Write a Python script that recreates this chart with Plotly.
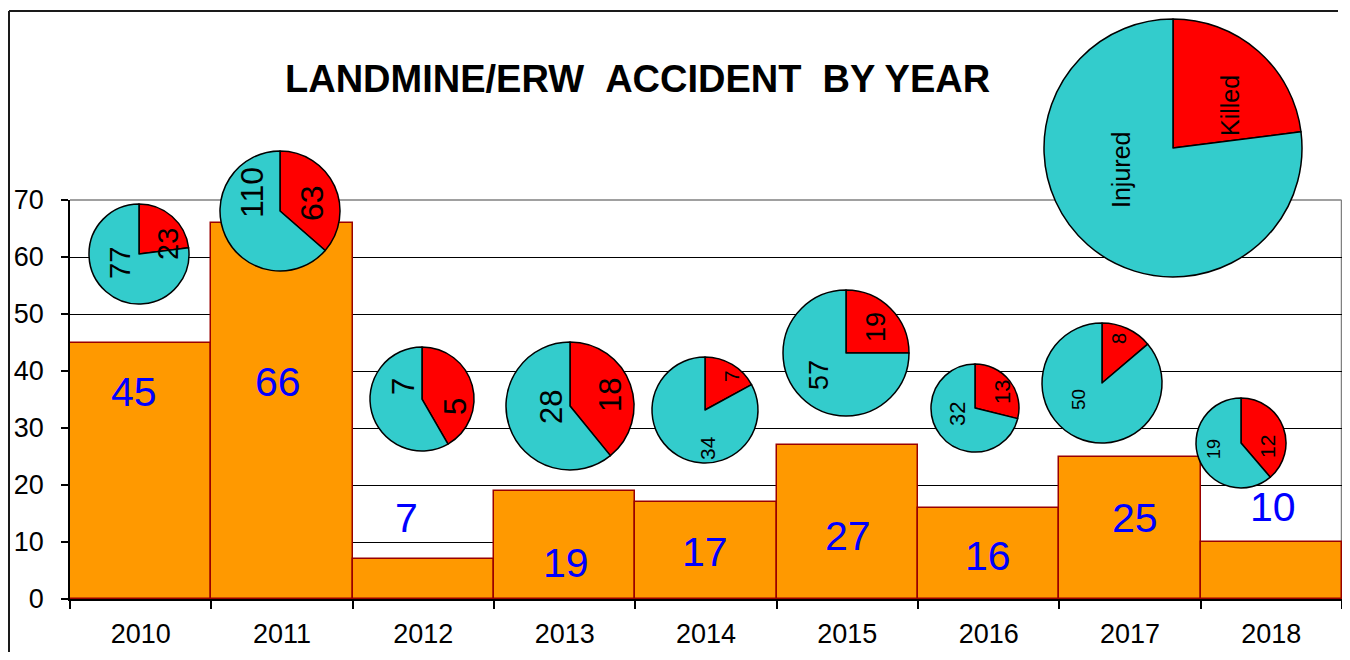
import plotly.graph_objects as go

# ---------------- data ----------------
years = ["2010", "2011", "2012", "2013", "2014", "2015", "2016", "2017", "2018"]
accidents = [45, 66, 7, 19, 17, 27, 16, 25, 10]
killed = [23, 63, 5, 18, 7, 19, 13, 8, 12]
injured = [77, 110, 7, 28, 34, 57, 32, 50, 19]
legend_labels = ["Killed", "Injured"]
legend_values = [23, 77]
y_ticks = [0, 10, 20, 30, 40, 50, 60, 70]
grid_vals = [10, 20, 30, 40, 50, 60]
title_text = "LANDMINE/ERW\u00a0\u00a0ACCIDENT\u00a0\u00a0BY YEAR"

# ---------------- layout helpers (screen pixels) ----------------
OFF = 8                    # page body margin
W, H = 1334, 644           # figure size (fits the 1350x660 window with the page margin)
PX_L, PX_R = 70, 1342      # plot area left/right (screen px)
PX_B, PX_T = 599, 200      # plot area bottom (y=0) / top (y=70) (screen px)

RED = "#FF0000"
TEAL = "#33CCCC"
ORANGE = "#FF9900"
FONT = "Liberation Sans, Arial, sans-serif"
NARROW = "Liberation Sans Narrow, Arial Narrow, Liberation Sans, Arial, sans-serif"

# pie placement: centre x, centre y, radius (screen px)
pie_geo = [(139, 254, 50), (280, 211, 60), (422, 399, 52), (570, 406, 64),
           (705, 410, 53), (846, 353, 63), (975, 408, 44), (1102, 383, 60),
           (1241, 443, 45)]
legend_geo = (1173, 148, 129)
# pie label placement: killed (x, y), injured (x, y), font sizes
killed_pos = [(168, 244), (312, 203), (455, 407), (610, 395), (731, 376),
              (876, 327), (1002, 392), (1119, 339), (1267, 447)]
injured_pos = [(120, 263), (252, 193), (403, 387), (551, 407), (707, 448),
               (819, 375), (957, 414), (1078, 400), (1214, 449)]
killed_fs = [29, 32, 31, 31, 21, 27, 22, 20, 21]
injured_fs = [29, 32, 31, 31, 21, 27, 22, 19, 18]
legend_pos = [(1230, 106), (1121, 170)]
# bar label placement in data units + horizontal shift
bar_label_y = [36.3, 38.1, 14.2, 6.3, 8.2, 11.1, 7.5, 14.2, 16.1]
bar_label_dx = [-7, -4, -17, 1, -1, 1, -1, 5, 2]


def fx(px):
    return (px - OFF) / W


def fy(py):
    return 1 - (py - OFF) / H


def dom(cx, cy, r):
    return dict(x=[fx(cx - r), fx(cx + r)], y=[fy(cy + r), fy(cy - r)])


fig = go.Figure()

fig.add_trace(go.Bar(
    x=years, y=accidents,
    marker=dict(color=ORANGE, line=dict(color="#990000", width=1.5)),
    showlegend=False, hoverinfo="x+y",
))

for i, yr in enumerate(years):
    cx, cy, r = pie_geo[i]
    fig.add_trace(go.Pie(
        values=[killed[i], injured[i]], labels=legend_labels,
        sort=False, direction="clockwise", rotation=0,
        marker=dict(colors=[RED, TEAL], line=dict(color="black", width=1.5)),
        textinfo="none", showlegend=False, domain=dom(cx, cy, r),
        name=yr,
    ))

cx, cy, r = legend_geo
fig.add_trace(go.Pie(
    values=legend_values, labels=legend_labels,
    sort=False, direction="clockwise", rotation=0,
    marker=dict(colors=[RED, TEAL], line=dict(color="black", width=1.5)),
    textinfo="none", showlegend=False, domain=dom(cx, cy, r),
))

annotations = []
# title
annotations.append(dict(
    text="<b>" + title_text + "</b>", x=fx(637.5), y=fy(79),
    xref="paper", yref="paper", showarrow=False, xanchor="center", yanchor="middle",
    font=dict(family=FONT, size=38, color="black"),
))
# bar labels (category axis: x given as category index)
for i, yr in enumerate(years):
    annotations.append(dict(
        text=str(accidents[i]), x=i, y=bar_label_y[i], xref="x", yref="y",
        xshift=bar_label_dx[i], showarrow=False, xanchor="center", yanchor="middle",
        font=dict(family=FONT, size=41, color="#0000FF"),
    ))
# pie labels
for i in range(len(years)):
    for val, pos, fs in ((killed[i], killed_pos[i], killed_fs[i]),
                         (injured[i], injured_pos[i], injured_fs[i])):
        annotations.append(dict(
            text=str(val), x=fx(pos[0]), y=fy(pos[1]), xref="paper", yref="paper",
            showarrow=False, textangle=-90, xanchor="center", yanchor="middle",
            font=dict(family=FONT, size=fs, color="black"),
        ))
for lab, pos in zip(legend_labels, legend_pos):
    annotations.append(dict(
        text=lab, x=fx(pos[0]), y=fy(pos[1]), xref="paper", yref="paper",
        showarrow=False, textangle=-90, xanchor="center", yanchor="middle",
        font=dict(family=FONT, size=25, color="black"),
    ))

shapes = [
    # grey plot-area border (top and right)
    dict(type="line", xref="paper", yref="paper", x0=fx(PX_L), x1=fx(PX_R) - 0.5 / W,
         y0=fy(PX_T), y1=fy(PX_T),
         line=dict(color="#808080", width=1.5), layer="below"),
    dict(type="line", xref="paper", yref="paper", x0=fx(PX_R) - 0.5 / W, x1=fx(PX_R) - 0.5 / W,
         y0=fy(PX_B), y1=fy(PX_T),
         line=dict(color="#808080", width=1.5), layer="below"),
    # outer chart frame
    dict(type="line", xref="paper", yref="paper", x0=1 / W, x1=1 / W, y0=0, y1=fy(11),
         line=dict(color="#1a1a1a", width=2), layer="above"),
    dict(type="line", xref="paper", yref="paper", x0=1 / W, x1=fx(1338), y0=fy(11), y1=fy(11),
         line=dict(color="#1a1a1a", width=2), layer="above"),
]

fig.update_layout(
    width=W, height=H,
    margin=dict(l=0, r=0, t=0, b=0, pad=0, autoexpand=False),
    paper_bgcolor="white", plot_bgcolor="rgba(0,0,0,0)",
    bargap=0,
    font=dict(family=FONT, color="black"),
    annotations=annotations, shapes=shapes,
    xaxis=dict(
        domain=[fx(PX_L), fx(PX_R)], type="category", automargin=False,
        range=[-0.5, len(years) - 0.5],
        showline=True, linecolor="black", linewidth=2,
        ticks="outside", ticklen=8, tickwidth=1.5, tickcolor="black",
        tickson="boundaries", showgrid=False, zeroline=False,
        tickfont=dict(family=NARROW, size=27, color="black"),
        ticklabelstandoff=10,
    ),
    yaxis=dict(
        domain=[fy(PX_B), fy(PX_T)], range=[0, 70],
        tickmode="array", tickvals=y_ticks, automargin=False,
        showline=True, linecolor="black", linewidth=1.5,
        ticks="outside", ticklen=7, tickwidth=1.5, tickcolor="black",
        showgrid=False, zeroline=False,
        minor=dict(tickmode="array", tickvals=grid_vals, showgrid=True,
                   gridcolor="black", gridwidth=1, ticks=""),
        tickfont=dict(family=NARROW, size=27, color="black"),
        ticklabelstandoff=12,
    ),
)

fig.write_html("out.html")
